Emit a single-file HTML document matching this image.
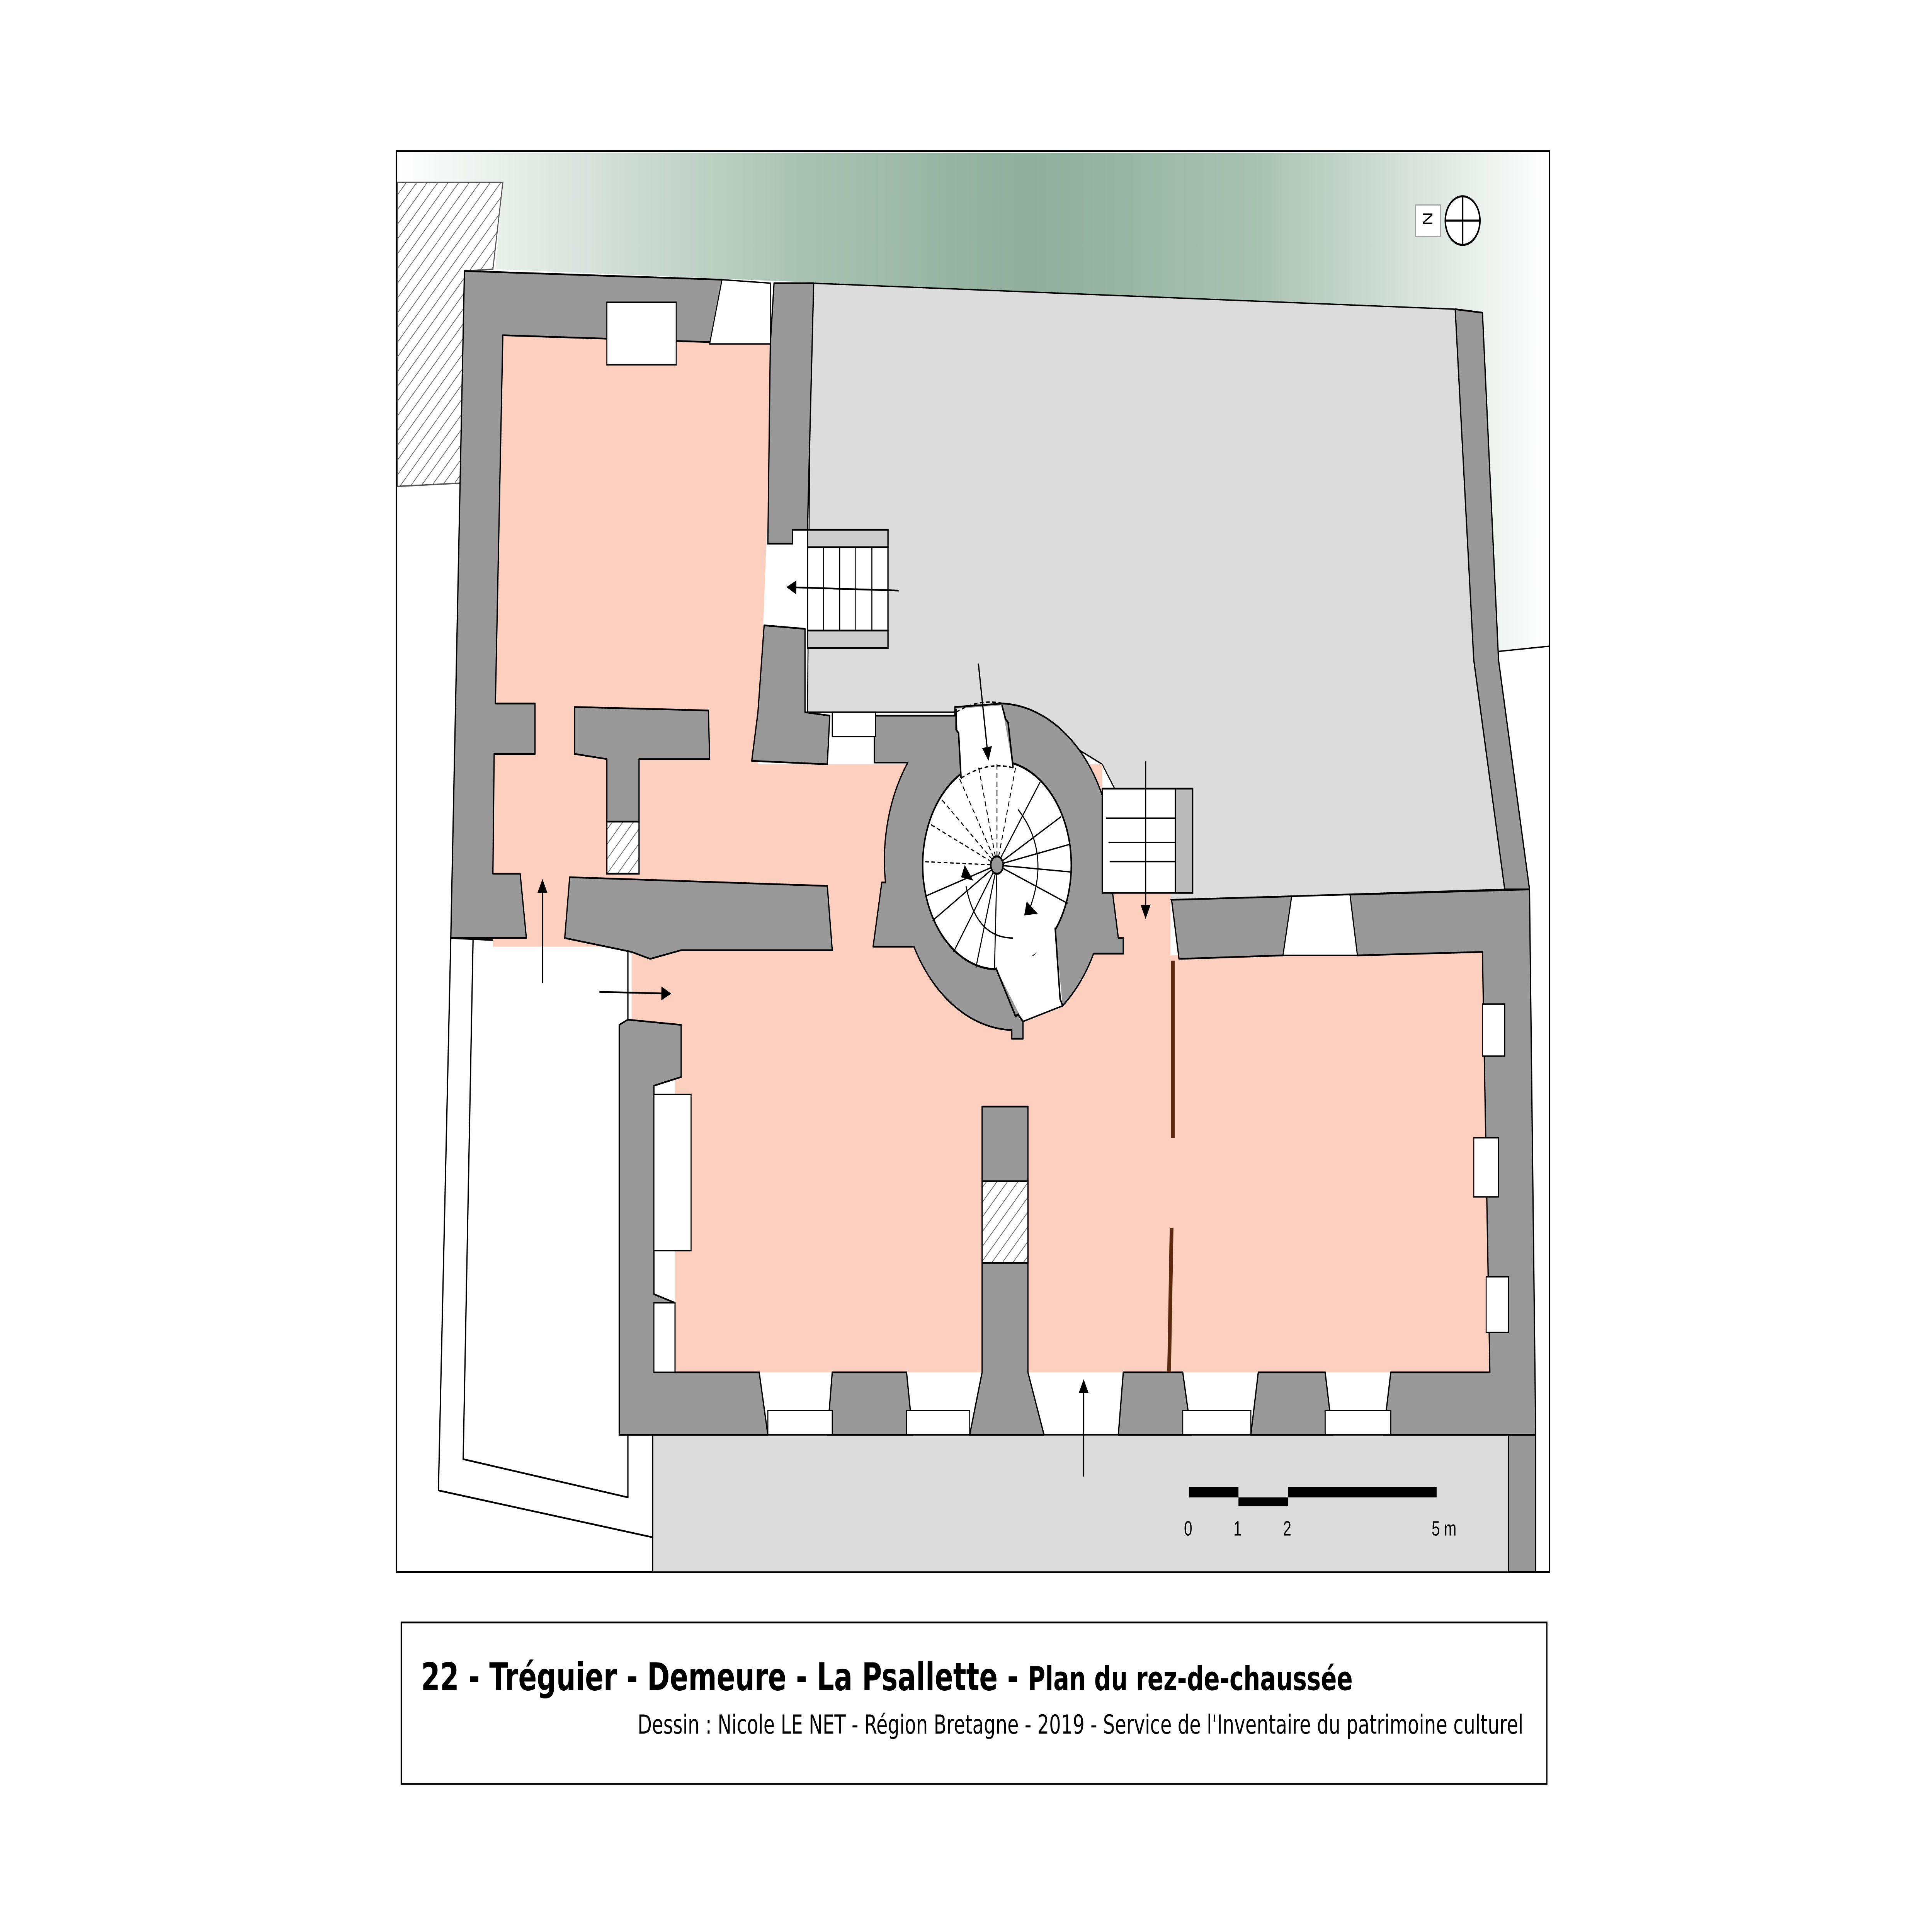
<!DOCTYPE html>
<html><head><meta charset="utf-8"><style>html,body{margin:0;padding:0;background:#fff;width:100%;height:100%;overflow:hidden}svg{display:block;position:fixed;left:0;top:0;width:100vw;height:100vh}</style></head><body>
<svg xmlns="http://www.w3.org/2000/svg" viewBox="0 0 1560 1103" preserveAspectRatio="none">
<defs>
<linearGradient id="g" x1="0" x2="1" y1="0" y2="0">
<stop offset="0" stop-color="#fff"/><stop offset="0.35" stop-color="#a9c2b3"/><stop offset="0.55" stop-color="#8fae9c"/><stop offset="0.75" stop-color="#a9c2b3"/><stop offset="1" stop-color="#fff"/></linearGradient>
<pattern id="h" width="6" height="6" patternUnits="userSpaceOnUse" patternTransform="rotate(45)"><rect width="6" height="6" fill="#fff"/><line x1="0" y1="0" x2="0" y2="6" stroke="#666" stroke-width="1"/></pattern>
<marker id="a" markerWidth="8" markerHeight="8" refX="7" refY="4" orient="auto" markerUnits="userSpaceOnUse"><path d="M0,0 L8,4 L0,8z" fill="#000"/></marker>
</defs>
<rect width="1560" height="1103" fill="#fff"/>
<rect x="320" y="87" width="931" height="818" fill="#fff" stroke="#000" stroke-width="1"/>
<polygon points="321,88 1250,88 1250,372 1210,375 1175,178 400,155 406,105 321,105" fill="url(#g)"/>
<polygon points="321,105 406,105 398,155 375,156 375,278 321,280" fill="url(#h)" stroke="#555" stroke-width="0.8"/>
<line x1="1210" y1="375" x2="1251" y2="372" stroke="#000" stroke-width="0.8"/>
<polygon points="655,163 1175,178 1215,512 948,518 900,515 900,454 890,440 822,410 652,410" fill="#dcdcdc" stroke="#000" stroke-width="0.8"/>
<rect x="527" y="826" width="713" height="79" fill="#dcdcdc" stroke="#000" stroke-width="0.8"/>
<polygon points="364,540 507,545 507,588 500,590 500,826 527,826 527,885 354,858" fill="#fff" stroke="#000" stroke-width="1"/>
<polyline points="382,540 374,840 507,862 507,826" fill="none" stroke="#000" stroke-width="1"/>
<polygon points="398,190 625,195 612,440 890,440 890,514 945,514 945,550 1197,548 1203,790 545,790 545,600 510,600 510,545 398,545" fill="#fccfbf"/>
<g fill="#999" stroke="#000" stroke-width="1" stroke-linejoin="round">
<polygon points="375,156 583,161 576,197 406,193 400,405 432,405 432,434 399,434 398,503 420,503 425,540 364,540"/>
<polygon points="625,163 657,163 652,305 640,305 640,313 620,313 622,198"/>
<polygon points="617,360 650,362 650,410 670,412 668,440 607,438 612,410"/>
<polygon points="464,407 572,409 573,437 516,437 516,473 490,473 490,437 464,434"/>
<polygon points="460,505 668,510 672,547 550,547 525,552 510,548 456,540"/>
<path d="M706,412 L771,412 L771,407 L810,405 A93,93 0 0 1 898,512 L903,540 L907,540 L907,549 L883,549 A93,93 0 0 1 858,579 L826,588 L826,598 L817,598 L817,593 A93,93 0 0 1 738,545 L705,545 L712,508 L715,508 A93,93 0 0 1 733,439 L706,439 Z"/>
<polygon points="946,518 1043,516 1036,550 952,552"/>
<polygon points="1090,515 1235,512 1240,826 1117,826 1123,790 1203,790 1197,548 1096,550"/>
<polygon points="1175,178 1197,180 1210,380 1235,512 1215,512 1190,380"/>
<polygon points="507,587 550,590 550,620 528,625 528,745 545,750 545,790 613,790 620,826 500,826 500,590"/>
<polygon points="672,790 732,790 737,826 668,826"/>
<polygon points="793,637 830,637 830,790 843,826 783,826 793,790"/>
<polygon points="907,790 955,790 962,826 903,826"/>
<polygon points="1016,790 1070,790 1076,826 1010,826"/>
<rect x="1218" y="826" width="22" height="79"/>
</g>
<circle cx="805" cy="498" r="60" fill="#fff" stroke="#000" stroke-width="1.2"/>
<polygon points="772,408 809,406 818,442 776,448" fill="#fff" stroke="none"/>
<polyline points="772,408 772,420 774,422 776,448" fill="none" stroke="#000" stroke-width="1.2"/>
<polyline points="809,406 812,414 814,416 818,442" fill="none" stroke="#000" stroke-width="1.2"/>
<polygon points="804,557 826,588 858,579 852,534 835,550" fill="#fff" stroke="none"/>
<polyline points="804,557 820,585 822,584 826,588" fill="none" stroke="#000" stroke-width="1.2"/>
<polyline points="852,534 856,575 858,579" fill="none" stroke="#000" stroke-width="1.2"/>
<line x1="826" y1="588" x2="858" y2="579" stroke="#000" stroke-width="0.8"/>
<path d="M772,410 Q790,402 810,405" fill="none" stroke="#000" stroke-width="0.8" stroke-dasharray="3,2"/>
<path d="M776,448 Q797,438 818,442" fill="none" stroke="#000" stroke-width="0.8" stroke-dasharray="3,2"/>
<g stroke="#000" stroke-width="0.7" stroke-dasharray="3,2" fill="none">
<line x1="805" y1="498" x2="805" y2="438"/><line x1="805" y1="498" x2="820" y2="442"/><line x1="805" y1="498" x2="790" y2="441"/><line x1="805" y1="498" x2="774" y2="447"/><line x1="805" y1="498" x2="760" y2="460"/><line x1="805" y1="498" x2="750" y2="474"/><line x1="805" y1="498" x2="745" y2="496"/>
</g>
<g stroke="#000" stroke-width="0.8" fill="none">
<line x1="805" y1="498" x2="840" y2="450"/><line x1="805" y1="498" x2="857" y2="470"/><line x1="805" y1="498" x2="864" y2="486"/><line x1="805" y1="498" x2="865" y2="502"/><line x1="805" y1="498" x2="862" y2="520"/>
<line x1="805" y1="498" x2="747" y2="516"/><line x1="805" y1="498" x2="753" y2="530"/><line x1="805" y1="498" x2="770" y2="548"/><line x1="805" y1="498" x2="788" y2="557"/><line x1="805" y1="498" x2="803" y2="558"/>
<path d="M822,466 Q848,490 832,522"/><path d="M780,510 Q788,540 818,540"/>
</g>
<path d="M776,505 L786,507 L779,498 Z" fill="#000"/><path d="M829,519 L838,526 L827,527 Z" fill="#000"/>
<circle cx="805" cy="498" r="5" fill="#999" stroke="#000" stroke-width="1.2"/>
<rect x="652" y="305" width="65" height="68" fill="#fff" stroke="#000"/>
<rect x="652" y="305" width="65" height="10" fill="#ccc" stroke="#000"/><rect x="652" y="363" width="65" height="10" fill="#ccc" stroke="#000"/>
<g stroke="#000" stroke-width="0.8"><line x1="665" y1="315" x2="665" y2="363"/><line x1="678" y1="315" x2="678" y2="363"/><line x1="691" y1="315" x2="691" y2="363"/><line x1="704" y1="315" x2="704" y2="363"/></g>
<rect x="890" y="454" width="73" height="60" fill="#fff" stroke="#000"/><rect x="949" y="454" width="14" height="60" fill="#bbb" stroke="#000"/>
<g stroke="#000" stroke-width="0.8"><line x1="893" y1="471" x2="949" y2="471"/><line x1="895" y1="485" x2="949" y2="485"/><line x1="896" y1="496" x2="949" y2="496"/></g>
<g fill="#fff" stroke="#000" stroke-width="0.8">
<polygon points="583,161 622,163 622,198 573,198"/><rect x="490" y="174" width="56" height="36"/><rect x="672" y="410" width="35" height="14"/>
<polygon points="1043,516 1090,515 1096,550 1036,550"/><rect x="1197" y="578" width="18" height="30"/><rect x="1190" y="655" width="20" height="34"/><rect x="1200" y="735" width="18" height="32"/>
<rect x="528" y="630" width="30" height="90"/><rect x="528" y="750" width="17" height="40"/>
<rect x="620" y="812" width="52" height="14"/><rect x="732" y="812" width="51" height="14"/><rect x="955" y="812" width="55" height="14"/><rect x="1070" y="812" width="53" height="14"/>
</g>
<rect x="490" y="473" width="26" height="30" fill="url(#h)" stroke="#000"/>
<rect x="793" y="680" width="37" height="47" fill="url(#h)" stroke="#000"/>
<g stroke="#5a2a10" stroke-width="3"><line x1="947" y1="553" x2="947" y2="655"/><line x1="946" y1="707" x2="944" y2="790"/></g>
<g stroke="#000" stroke-width="1" marker-end="url(#a)">
<line x1="726" y1="340" x2="636" y2="338"/><line x1="790" y1="382" x2="798" y2="437"/><line x1="925" y1="438" x2="925" y2="528"/>
<line x1="438" y1="566" x2="438" y2="507"/><line x1="484" y1="571" x2="541" y2="572"/><line x1="875" y1="850" x2="875" y2="795"/>
</g>
<rect x="960" y="856" width="40" height="6" fill="#000"/><rect x="1000" y="862" width="40" height="5" fill="#000"/><rect x="1040" y="856" width="120" height="6" fill="#000"/>
<g font-family="Liberation Sans,sans-serif" font-size="12" fill="#000"><text x="956" y="884">0</text><text x="996" y="884">1</text><text x="1036" y="884">2</text><text x="1156" y="884">5 m</text></g>
<circle cx="1181" cy="127" r="14" fill="#fff" stroke="#000" stroke-width="1.2"/><line x1="1167" y1="127" x2="1195" y2="127" stroke="#000" stroke-width="1.2"/><line x1="1181" y1="113" x2="1181" y2="141" stroke="#000" stroke-width="1.2"/>
<rect x="1143" y="118" width="20" height="18" fill="#fff" stroke="#999" stroke-width="0.6"/>
<text x="1148" y="131" font-family="Liberation Sans,sans-serif" font-size="11" transform="rotate(90 1153 127)" fill="#000">N</text>
<rect x="324" y="934" width="925" height="93" fill="#fff" stroke="#000" stroke-width="1"/>
<text x="340" y="973" font-family="DejaVu Sans,Liberation Sans,sans-serif" font-weight="bold" font-size="22" fill="#000">22 - Tréguier - Demeure - La Psallette - <tspan font-size="19">Plan du rez-de-chaussée</tspan></text>
<text x="1230" y="998" text-anchor="end" font-family="DejaVu Sans,Liberation Sans,sans-serif" font-size="15" fill="#000">Dessin : Nicole LE NET - Région Bretagne - 2019 - Service de l'Inventaire du patrimoine culturel</text>
</svg>
</body></html>
